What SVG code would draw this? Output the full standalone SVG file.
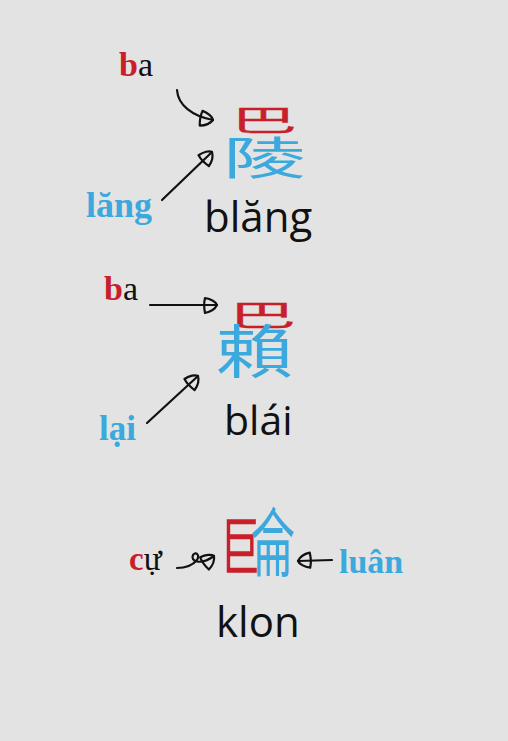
<svg xmlns="http://www.w3.org/2000/svg" width="508" height="741" viewBox="0 0 508 741">
<defs>
<style>
.bg{fill:#e3e3e3}
.ser{font-family:"Liberation Serif","Noto Serif",serif;font-weight:bold}
.reg{font-weight:normal}
.red{fill:#c8202a}
.blue{fill:#3ba9dd}
.blk{fill:#111}
.sans{font-family:"Open Sans","Noto Sans",sans-serif;fill:#111}
.cjk{font-family:"Noto Sans CJK SC","Noto Sans CJK TC",sans-serif;text-anchor:middle}
.hv{stroke:#c8202a;stroke-width:0.6;stroke-linejoin:round}
.arr{fill:none;stroke:#111;stroke-width:2.2;stroke-linecap:round;stroke-linejoin:round}
</style>
<marker id="head" viewBox="-16 -10 20 20" refX="0" refY="0" markerWidth="20" markerHeight="20" orient="auto" markerUnits="userSpaceOnUse" overflow="visible">
<path d="M-12,-7 C-6,-6 -1,-3 0,0 C-2,4 -7,7 -12,8 C-13,3 -13,-3 -12,-7 Z" fill="none" stroke="#111" stroke-width="2.2" stroke-linejoin="round"/>
</marker>
</defs>
<rect class="bg" x="0" y="0" width="508" height="741"/>

<g id="word1">
<g id="label-ba1"><text class="ser" x="119" y="76" font-size="34"><tspan class="red">b</tspan><tspan class="blk reg">a</tspan></text></g>
<g id="char1">
<text class="cjk red hv" transform="translate(264,120) scale(1,0.43)" x="0" y="25" font-size="66">巴</text>
<text class="cjk blue" transform="translate(264.5,157.5) scale(1,0.55)" x="0" y="31" font-size="83">陵</text>
</g>
<g id="label-lang"><text class="ser blue" x="86" y="217" font-size="36">lăng</text></g>
<g id="reading1"><text class="sans" x="204" y="232" font-size="42">blăng</text></g>
</g>

<g id="word2">
<g id="label-ba2"><text class="ser" x="104" y="300" font-size="34"><tspan class="red">b</tspan><tspan class="blk reg">a</tspan></text></g>
<g id="char2">
<text class="cjk red hv" transform="translate(262.5,315) scale(1,0.42)" x="0" y="25" font-size="67">巴</text>
<text class="cjk blue" transform="translate(255,351) scale(1,0.74)" x="0" y="30" font-size="78">賴</text>
</g>
<g id="label-lai"><text class="ser blue" x="99" y="440" font-size="35">lại</text></g>
<g id="reading2"><text class="sans" x="224" y="435" font-size="41">blái</text></g>
</g>

<g id="word3">
<g id="label-cu"><text class="ser red" x="129" y="570" font-size="33">c<tspan class="blk reg">ự</tspan></text></g>
<g id="char3">
<text class="cjk red hv" transform="translate(240,545) scale(0.62,1)" x="0" y="24" font-size="63">巨</text>
<text class="cjk blue" transform="translate(273,541.5) scale(0.6,1)" x="0" y="28" font-size="74">侖</text>
</g>
<g id="label-luan"><text class="ser blue" x="339" y="573" font-size="34">luân</text></g>
<g id="reading3"><text class="sans" x="216" y="637" font-size="42">klon</text></g>
</g>

<g id="connectors">
<path class="arr" marker-end="url(#head)" d="M177,90 C178,105 192,116 213,120"/>
<path class="arr" marker-end="url(#head)" d="M162,200 L212,152"/>
<path class="arr" marker-end="url(#head)" d="M150,305 L217,305"/>
<path class="arr" marker-end="url(#head)" d="M147,423 L198,376"/>
<path class="arr" marker-end="url(#head)" d="M177,568 C186,568 192,566 197,560 C200,555 196,551 193,555 C190,561 200,566 214,556"/>
<path class="arr" marker-end="url(#head)" d="M332,560 L298,561"/>
</g>
</svg>
